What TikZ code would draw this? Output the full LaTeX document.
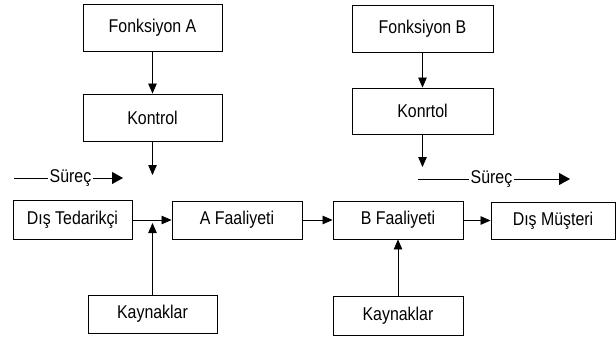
\documentclass[tikz,border=0pt]{standalone}
\usepackage{fontspec}
\setmainfont{Liberation Sans}[FakeStretch=0.86]
\usetikzlibrary{arrows.meta}
\begin{document}
\begin{tikzpicture}[x=1pt,y=-1pt,
  box/.style={draw,line width=0.9pt,rectangle,inner sep=0pt,font=\fontsize{18.5}{21}\selectfont},
  lbl/.style={inner sep=1.5pt,font=\fontsize{18.5}{21}\selectfont},
  arr/.style={line width=0.8pt,-{Triangle[length=10pt,width=8.5pt]}},
  bigarr/.style={line width=0.8pt,-{Triangle[length=11pt,width=12pt]}},
  ln/.style={line width=0.8pt}]
\useasboundingbox (0,0) rectangle (616,338);
\node[box,minimum width=139pt,minimum height=47pt] (fa) at (152.5,27.5) {Fonksiyon A};
\node[box,minimum width=139pt,minimum height=47pt] (ka) at (152.5,117.5) {Kontrol};
\node[box,minimum width=141pt,minimum height=47pt] (fb) at (422.5,28.5) {Fonksiyon B};
\node[box,minimum width=141pt,minimum height=46pt] (kb) at (422.5,111) {Konrtol};
\node[box,minimum width=119pt,minimum height=39pt] (dt) at (72.5,219.5) {Dış Tedarikçi};
\node[box,minimum width=130pt,minimum height=38pt] (af) at (237,220) {A Faaliyeti};
\node[box,minimum width=130pt,minimum height=38pt] (bf) at (398,220) {B Faaliyeti};
\node[box,minimum width=124pt,minimum height=37pt] (dm) at (553,220.5) {Dış Müşteri};
\node[box,minimum width=129pt,minimum height=38pt] (kya) at (152.5,314) {Kaynaklar};
\node[box,minimum width=130pt,minimum height=39pt] (kyb) at (398,315.5) {Kaynaklar};
\coordinate (kaend) at (152.5,175);
\coordinate (kbend) at (422.5,167);
\coordinate (kyaend) at (152.5,223);
\draw[arr] (fa) -- (ka);
\draw[arr] (ka) -- (kaend);
\draw[arr] (fb) -- (kb);
\draw[arr] (kb) -- (kbend);
\draw[arr] (dt.east |- af.west) -- (af.west);
\draw[arr] (kya) -- (kyaend);
\draw[arr] (af) -- (bf);
\draw[arr] (bf.east |- dm.west) -- (dm.west);
\draw[arr] (kyb) -- (bf);
% Surec left
\node[lbl] (s1) at (70.5,178) {Süreç};
\coordinate (s1a) at (14,178);
\coordinate (s1b) at (123,178);
\draw[ln] (s1a) -- (s1.west);
\draw[bigarr] (s1.east) -- (s1b);
% Surec right
\node[lbl] (s2) at (491.5,179) {Süreç};
\coordinate (s2a) at (418,179);
\coordinate (s2b) at (570,179);
\draw[ln] (s2a) -- (s2.west);
\draw[bigarr] (s2.east) -- (s2b);
\end{tikzpicture}
\end{document}
